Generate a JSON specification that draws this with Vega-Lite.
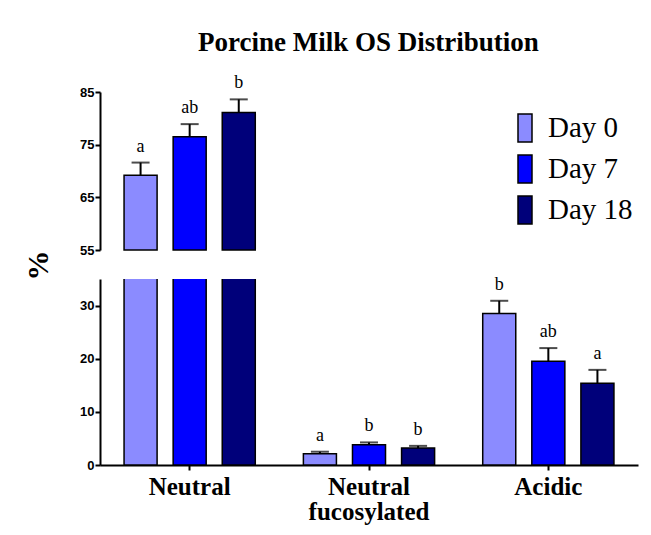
{
  "$schema": "https://vega.github.io/schema/vega-lite/v6.json",
  "padding": {"left": 23, "top": 29, "right": 5, "bottom": 5},
  "bounds": "flush",
  "title": {"text": "Porcine Milk OS Distribution", "font": "Liberation Serif", "fontSize": 27, "fontWeight": "bold", "color": "black", "anchor": "middle", "offset": 17, "dx": 38},
  "data": {"values": [
    {"group": "Neutral", "day": "Day 0", "value": 69.2, "err": 71.6, "letter": "a"},
    {"group": "Neutral", "day": "Day 7", "value": 76.5, "err": 78.9, "letter": "ab"},
    {"group": "Neutral", "day": "Day 18", "value": 81.1, "err": 83.6, "letter": "b"},
    {"group": "Neutral fucosylated", "day": "Day 0", "value": 2.1, "err": 2.5, "letter": "a"},
    {"group": "Neutral fucosylated", "day": "Day 7", "value": 3.8, "err": 4.25, "letter": "b"},
    {"group": "Neutral fucosylated", "day": "Day 18", "value": 3.2, "err": 3.6, "letter": "b"},
    {"group": "Acidic", "day": "Day 0", "value": 28.5, "err": 30.9, "letter": "b"},
    {"group": "Acidic", "day": "Day 7", "value": 19.5, "err": 22.0, "letter": "ab"},
    {"group": "Acidic", "day": "Day 18", "value": 15.4, "err": 17.9, "letter": "a"}
  ]},
  "spacing": 29,
  "vconcat": [
    {
      "width": 538,
      "height": 158,
      "transform": [{"filter": "datum.group == 'Neutral'"}],
      "encoding": {
        "x": {"field": "group", "type": "nominal", "sort": null, "axis": null,
              "scale": {"domain": ["Neutral", "Neutral fucosylated", "Acidic"], "paddingInner": 0, "paddingOuter": 0}},
        "xOffset": {"field": "day", "type": "nominal", "sort": ["Day 0", "Day 7", "Day 18"],
                    "scale": {"paddingInner": 0.327, "paddingOuter": 0.49}}
      },
      "layer": [
        {
          "mark": {"type": "bar", "stroke": "black", "strokeWidth": 1.5},
          "encoding": {
            "y": {"field": "value", "type": "quantitative", "scale": {"domain": [55, 85], "zero": false, "nice": false},
                  "axis": {"values": [55, 65, 75, 85], "title": null}},
            "y2": {"datum": 55},
            "color": {"field": "day", "type": "nominal", "sort": ["Day 0", "Day 7", "Day 18"],
                      "scale": {"domain": ["Day 0", "Day 7", "Day 18"], "range": ["#8b8bff", "#0000ff", "#00007a"]},
                      "legend": {"orient": "none", "legendX": 410, "legendY": 21}}
          }
        },
        {
          "mark": {"type": "rule", "color": "black", "strokeWidth": 2},
          "encoding": {"y": {"field": "value", "type": "quantitative"}, "y2": {"field": "err"}}
        },
        {
          "mark": {"type": "tick", "color": "black", "thickness": 2, "size": 18, "orient": "horizontal"},
          "encoding": {"y": {"field": "err", "type": "quantitative"}}
        },
        {
          "mark": {"type": "text", "font": "Liberation Serif", "fontSize": 18, "baseline": "alphabetic", "dy": -11, "color": "black"},
          "encoding": {"y": {"field": "err", "type": "quantitative"}, "text": {"field": "letter"}}
        }
      ]
    },
    {
      "width": 538,
      "height": 186,
      "encoding": {
        "x": {"field": "group", "type": "nominal", "sort": null,
              "scale": {"domain": ["Neutral", "Neutral fucosylated", "Acidic"], "paddingInner": 0, "paddingOuter": 0},
              "axis": {"title": null, "labelAngle": 0, "labelFont": "Liberation Serif", "labelFontSize": 25, "labelFontWeight": "bold", "labelColor": "black", "labelPadding": 4, "labelLineHeight": 25,
                       "labelExpr": "datum.label == 'Neutral fucosylated' ? ['Neutral', 'fucosylated'] : datum.label", "tickSize": 5}},
        "xOffset": {"field": "day", "type": "nominal", "sort": ["Day 0", "Day 7", "Day 18"],
                    "scale": {"paddingInner": 0.327, "paddingOuter": 0.49}}
      },
      "layer": [
        {
          "mark": {"type": "bar", "stroke": "black", "strokeWidth": 1.5, "clip": true},
          "encoding": {
            "y": {"field": "value", "type": "quantitative", "scale": {"domain": [0, 35], "nice": false},
                  "axis": {"values": [0, 10, 20, 30], "title": "%", "titleFont": "Liberation Serif", "titleFontSize": 30, "titleFontWeight": "bold", "titleColor": "black", "titleY": -14, "titleX": -62, "titleAngle": -90, "titleAlign": "center", "titleBaseline": "middle"}},
            "y2": {"datum": 0},
            "color": {"field": "day", "type": "nominal", "sort": ["Day 0", "Day 7", "Day 18"],
                      "scale": {"domain": ["Day 0", "Day 7", "Day 18"], "range": ["#8b8bff", "#0000ff", "#00007a"]}}
          }
        },
        {
          "transform": [{"filter": "datum.group != 'Neutral'"}],
          "mark": {"type": "rule", "color": "black", "strokeWidth": 2},
          "encoding": {"y": {"field": "value", "type": "quantitative"}, "y2": {"field": "err"}}
        },
        {
          "transform": [{"filter": "datum.group != 'Neutral'"}],
          "mark": {"type": "tick", "color": "black", "thickness": 2, "size": 18, "orient": "horizontal"},
          "encoding": {"y": {"field": "err", "type": "quantitative"}}
        },
        {
          "transform": [{"filter": "datum.group != 'Neutral'"}],
          "mark": {"type": "text", "font": "Liberation Serif", "fontSize": 18, "baseline": "alphabetic", "dy": -11, "color": "black"},
          "encoding": {"y": {"field": "err", "type": "quantitative"}, "text": {"field": "letter"}}
        }
      ]
    }
  ],
  "config": {
    "view": {"stroke": null},
    "axis": {"domainColor": "black", "domainWidth": 2, "tickColor": "black", "tickWidth": 2, "tickSize": 5, "grid": false,
             "labelFont": "Liberation Sans", "labelFontSize": 13, "labelFontWeight": "bold", "labelColor": "black", "labelPadding": 1},
    "legend": {"title": null, "symbolType": "M-0.5,-1H0.5V1H-0.5Z", "symbolSize": 784, "symbolStrokeColor": "black", "symbolStrokeWidth": 1.5,
               "labelFont": "Liberation Serif", "labelFontSize": 29, "labelColor": "black", "labelOffset": 8, "rowPadding": 7, "symbolOpacity": 1}
  }
}
